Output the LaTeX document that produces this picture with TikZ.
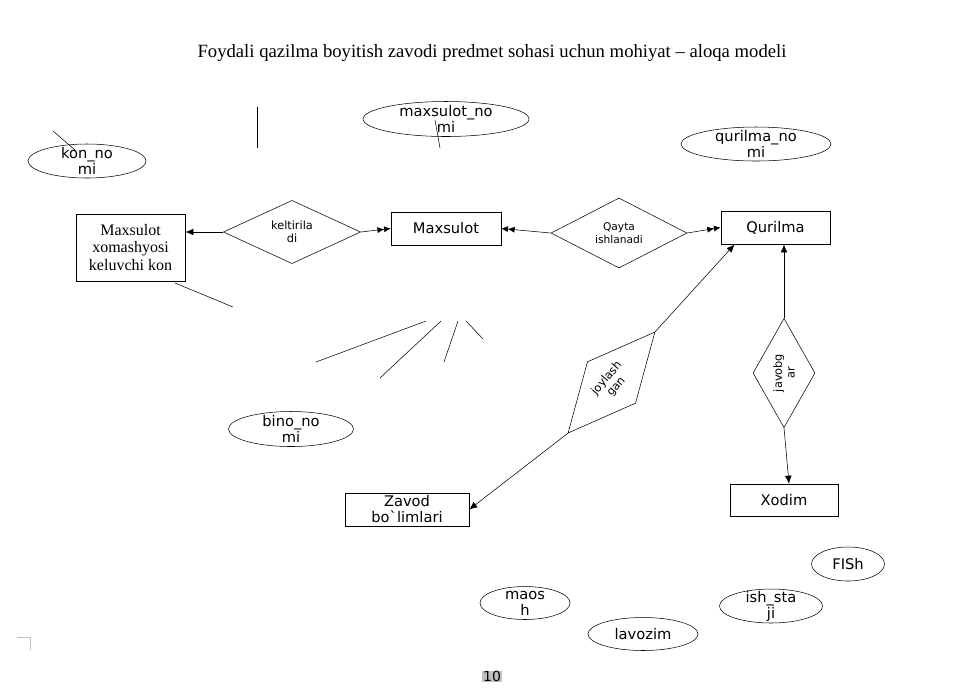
\documentclass[tikz,border=0pt]{standalone}
\usepackage{fontspec}
\setmainfont{Liberation Serif}
\newfontfamily\dvsans{DejaVu Sans}
\usetikzlibrary{shapes.geometric,arrows.meta}
\definecolor{hlgray}{RGB}{192,192,192}

\begin{document}
\begin{tikzpicture}[x=0.75pt,y=-0.75pt,
    entity/.style={draw,inner sep=1pt,align=center,font=\dvsans\fontsize{11}{12}\selectfont},
    attr/.style={draw,ellipse,inner sep=0pt},
    attrtext/.style={align=center,inner sep=0pt,font=\dvsans\fontsize{11}{12}\selectfont},
    rel/.style={draw,diamond,inner sep=0pt,align=center,font=\dvsans\fontsize{8.5}{9.5}\selectfont},
    arr/.style={-{Latex[length=6pt,width=5pt]}},
    darr/.style={-{Latex[length=5pt,width=4.5pt]Latex[length=5pt,width=4.5pt]}}]
\useasboundingbox (0,0) rectangle (953,694);

% sarlavha
\node[anchor=base,font=\fontsize{14}{16}\selectfont] (title) at (492,57) {Foydali qazilma boyitish zavodi predmet sohasi uchun mohiyat – aloqa modeli};

% mohiyatlar
\node[entity,minimum width=82pt,minimum height=50pt,font=\fontsize{12}{13}\selectfont] (kon) at (130.5,247.5) {Maxsulot\\xomashyosi\\keluvchi kon};
\node[entity,minimum width=82.5pt,minimum height=24.75pt] (mx) at (446,228.5) {Maxsulot};
\node[entity,minimum width=82pt,minimum height=25pt] (qur) at (775.5,227.5) {Qurilma};
\node[entity,minimum width=93pt,minimum height=25pt] (zav) at (407,509.5) {Zavod\\bo`limlari};
\node[entity,minimum width=81pt,minimum height=24pt] (xod) at (784,500) {Xodim};

% aloqalar
\node[rel,minimum width=103pt,minimum height=36pt] (kel) at (292,232) {keltirila\\di};
\node[rel,minimum width=102pt,minimum height=52.5pt,font=\dvsans\fontsize{8}{9.5}\selectfont] (qay) at (619,233) {Qayta\\ishlanadi};
\node[rel,minimum width=100pt,minimum height=37pt,rotate=49.3] (joy) at (611.5,382.5) {joylash\\gan};
\node[rel,minimum width=82pt,minimum height=46.5pt,rotate=90] (jav) at (784,373) {javobg\\ar};

% atributlar
\node[attr,minimum width=88.5pt,minimum height=25.5pt,label={[attrtext]center:kon\_no\\mi}] (konnomi) at (87,161) {};
\node[attr,minimum width=124.5pt,minimum height=26.25pt,label={[attrtext]center:maxsulot\_no\\mi}] (mxnomi) at (446,119) {};
\node[attr,minimum width=112.5pt,minimum height=25.5pt,label={[attrtext]center:qurilma\_no\\mi}] (qurnomi) at (756,144) {};
\node[attr,minimum width=93.75pt,minimum height=26.25pt,label={[attrtext]center:bino\_no\\mi}] (binonomi) at (291,429) {};
\node[attr,minimum width=54.75pt,minimum height=25.5pt,label={[attrtext]center:FISh}] (fish) at (848,564) {};
\node[attr,minimum width=67.5pt,minimum height=24.75pt,label={[attrtext]center:maos\\h}] (maosh) at (525,603) {};
\node[attr,minimum width=77.25pt,minimum height=25.5pt,label={[attrtext]center:ish\_sta\\ji}] (ishstaji) at (771,606) {};
\node[attr,minimum width=82.5pt,minimum height=24.75pt,label={[attrtext]center:lavozim}] (lavozim) at (643,634) {};

% bog'lanishlar
\draw[arr] (kel.west) -- (kel.west -| kon.east);
\draw[darr] (kel.east) -- (mx.west);
\draw[darr] (qay.west) -- (mx.east);
\draw[darr] (qay.east) -- (qur.west);
\draw[arr] (joy.east) -- ([xshift=10.5pt]qur.south west);
\draw[arr] (joy.west) -- (zav.east);
\draw[arr] (jav.east) -- (jav.east |- qur.south);
\draw[arr] (jav.west) -- ([xshift=3.75pt]xod.north);

% ortiqcha chiziqlar
\draw (53,131) -- (75,150);
\draw (257,107) -- (257,148);
\draw (435,120) -- (440,148);
\draw (175,283) -- (233,307);
\draw (316,362) -- (426,321);
\draw (380,378) -- (441,321);
\draw (444,362) -- (458,321);
\draw (466,321) -- (483,339);

% sahifa
\draw[hlgray] (17,637) -- (30,637) -- (30,650);
\node[fill=hlgray,inner sep=0.5pt,font=\dvsans\fontsize{10.5}{12}\selectfont] (pg) at (492,676.5) {10};
\end{tikzpicture}
\end{document}
